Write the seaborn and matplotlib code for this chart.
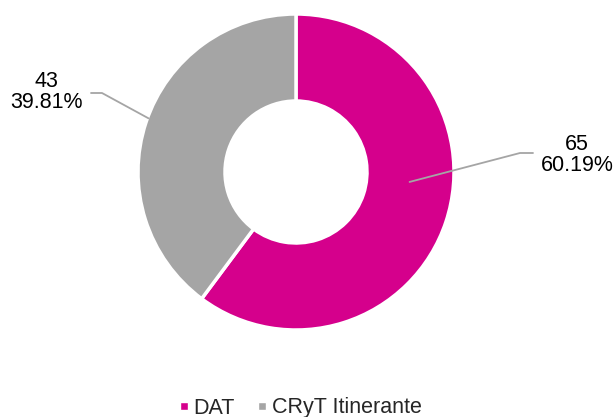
import matplotlib
matplotlib.use("Agg")
import matplotlib.pyplot as plt
import seaborn as sns
import numpy as np
from matplotlib.lines import Line2D

# Data
labels = ["DAT", "CRyT Itinerante"]
values = [65, 43]
colors = ["#D5008C", "#A5A5A5"]

sns.set_theme(style="white")
plt.rcParams['font.family'] = ['Liberation Sans', 'DejaVu Sans']

fig = plt.figure(figsize=(6.16, 4.17), dpi=100)
ax = fig.add_axes([0, 0, 1, 1])

cx, cy, R = 296, 245, 158
ax.pie(values, colors=colors, startangle=90, counterclock=False,
       center=(cx, cy), radius=R, frame=True,
       wedgeprops=dict(width=87, edgecolor="white", linewidth=2.5))
ax.set_xlim(0, 616)
ax.set_ylim(0, 417)
ax.set_aspect("equal")
ax.axis("off")

total = sum(values)
pcts = [v / total * 100 for v in values]

# label layout: (start angle deg, start radius, elbow xy, end xy, text xy)
layout = [
    (-5, 114, (520, 264), (533, 264), (577, 262)),
    (160, 157, (102, 324), (91, 324), (46, 325)),
]
for (ang, rr, elb, end, txt), v, p in zip(layout, values, pcts):
    a = np.deg2rad(ang)
    sx, sy = cx + rr * np.cos(a), cy + rr * np.sin(a)
    ax.plot([sx, elb[0], end[0]], [sy, elb[1], end[1]], color="#A5A5A5", lw=1.3)
    ax.text(txt[0], txt[1], f"{v}\n{p:.2f}%", ha="center", va="center",
            fontsize=15.5, color="black", linespacing=1.0)

handles = [Line2D([0], [0], marker="s", color="w", markerfacecolor=c,
                  markersize=6, label=l) for c, l in zip(colors, labels)]
ax.legend(handles=handles, loc="center", bbox_to_anchor=(300 / 616, 9 / 417),
          ncol=2, frameon=False, fontsize=15.5, handlelength=0.5,
          handletextpad=0.2, columnspacing=1.0)

fig.savefig("out.png", dpi=100)
